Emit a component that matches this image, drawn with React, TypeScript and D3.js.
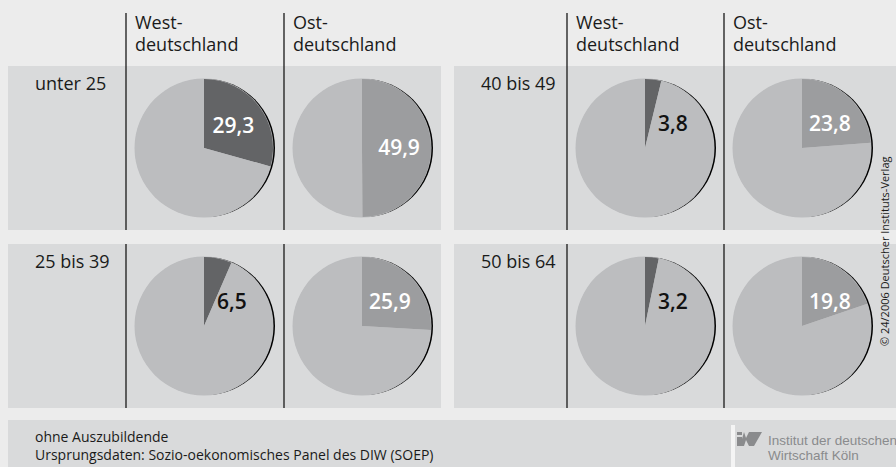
import React from 'react';
import * as d3 from 'd3';

// age groups, laid out 2x2: left column, then right column
const ageGroups = ['unter 25', '25 bis 39', '40 bis 49', '50 bis 64'];
const regions = ['West-|deutschland', 'Ost-|deutschland'];
// share in percent
const westValues = [29.3, 6.5, 3.8, 3.2];
const ostValues = [49.9, 25.9, 23.8, 19.8];
const footnotes = ['ohne Auszubildende', 'Ursprungsdaten: Sozio-oekonomisches Panel des DIW (SOEP)'];

const W = 896;
const H = 467;
const FONT = "'Open Sans', 'DejaVu Sans', sans-serif";

const BG = '#ececec';
const PANEL = '#d9dadb';
const REST = '#bcbdbf';
const WEST_COL = '#636466';
const OST_COL = '#9c9d9f';

const blockX = d3.scaleOrdinal<number, number>().domain([0, 1]).range([8, 454]);
const rowY = d3.scaleOrdinal<number, number>().domain([0, 1]).range([66, 244]);
const rowH = 164;
const R = 69;

const pie = d3.pie<number>().sort(null).value(d => d);
const arc = d3.arc<d3.PieArcDatum<number>>().innerRadius(0).outerRadius(R);

const fmt = (v: number) => v.toFixed(1).replace('.', ',');

const Pie: React.FC<{ cx: number; cy: number; value: number; color: string }> = ({ cx, cy, value, color }) => {
  const arcs = pie([value, 100 - value]);
  const a = arcs[0];
  // small slices get their label pushed out to ~48 degrees
  const mid = Math.max((a.startAngle + a.endAngle) / 2, 0.85);
  const lr = 37;
  const lx = Math.sin(mid) * lr;
  const ly = -Math.cos(mid) * lr;
  return (
    <g transform={`translate(${cx},${cy})`}>
      <circle cx={2} cy={0} r={R} fill="#000" />
      <circle cx={0} cy={0} r={R + 0.5} fill={REST} />
      {arcs.map((d, i) => (
        <path key={i} d={arc(d) || ''} fill={i === 0 ? color : REST} />
      ))}
      <text x={lx} y={ly} dy="0.36em" textAnchor="middle" fontFamily={FONT} fontWeight={600}
        fontSize={21} fill={value >= 10 ? '#fff' : '#111'}>{fmt(value)}</text>
    </g>
  );
};

export default function App() {
  return (
    <svg width={W} height={H} style={{ position: 'absolute', left: 0, top: 0 }}>
      <rect x={0} y={0} width={W} height={H} fill={BG} />
      {[0, 1].map(b => {
        const x0 = blockX(b);
        const x1 = b === 0 ? 441 : W;
        const lineX = b === 0 ? [126, 284] : [567, 724];
        return (
          <g key={b}>
            {[0, 1].map(r => (
              <rect key={r} x={x0} y={rowY(r)} width={x1 - x0} height={rowH} fill={PANEL} />
            ))}
            {regions.map((reg, j) => (
              <text key={j} fontFamily={FONT} fontSize={18} fill="#1a1a1a">
                {reg.split('|').map((s, k) => (
                  <tspan key={k} x={lineX[j] + 9} y={29 + k * 22}>{s}</tspan>
                ))}
              </text>
            ))}
            {[0, 1].map(r => {
              const gi = b * 2 + r;
              const y = rowY(r);
              const cy = y + 82;
              return (
                <g key={r}>
                  <text x={x0 + 27} y={y + 24} fontFamily={FONT} fontSize={18} fill="#1a1a1a">{ageGroups[gi]}</text>
                  {lineX.map((lx, j) => (
                    <line key={j} x1={lx} x2={lx} y1={r === 0 ? 13 : y} y2={y + rowH} stroke="#1a1a1a" strokeWidth={1.3} />
                  ))}
                  <Pie cx={lineX[0] + 78} cy={cy} value={westValues[gi]} color={WEST_COL} />
                  <Pie cx={lineX[1] + 78} cy={cy} value={ostValues[gi]} color={OST_COL} />
                </g>
              );
            })}
          </g>
        );
      })}
      {/* footer */}
      <rect x={8} y={420} width={W - 8} height={H - 420} fill={PANEL} />
      {footnotes.map((t, i) => (
        <text key={i} x={35} y={442 + i * 18} fontFamily={FONT} fontSize={14} fill="#1a1a1a">{t}</text>
      ))}
      {/* logo */}
      <rect x={731} y={425} width={4} height={42} fill="#f4f4f4" />
      <rect x={737} y={432} width={5} height={3} fill="#8a8b8d" />
      <rect x={737} y={437} width={5} height={9} fill="#8a8b8d" />
      <path d="M744,432 L762,432 L754,446 L749,446 L746,440 L744,446 L740,446 Z" fill="#8a8b8d" />
      <path d="M744,432 L749,432 L746,438 Z" fill={PANEL} />
      <text x={768} y={445} fontFamily="'Liberation Sans', Arial, sans-serif" fontSize={13.5} fill="#8a8b8d">Institut der deutschen</text>
      <text x={768} y={459.5} fontFamily="'Liberation Sans', Arial, sans-serif" fontSize={13.5} fill="#8a8b8d">Wirtschaft Köln</text>
      <text transform="translate(889,346) rotate(-90)" fontFamily={FONT} fontSize={11} fill="#1a1a1a">© 24/2006 Deutscher Instituts-Verlag</text>
    </svg>
  );
}
